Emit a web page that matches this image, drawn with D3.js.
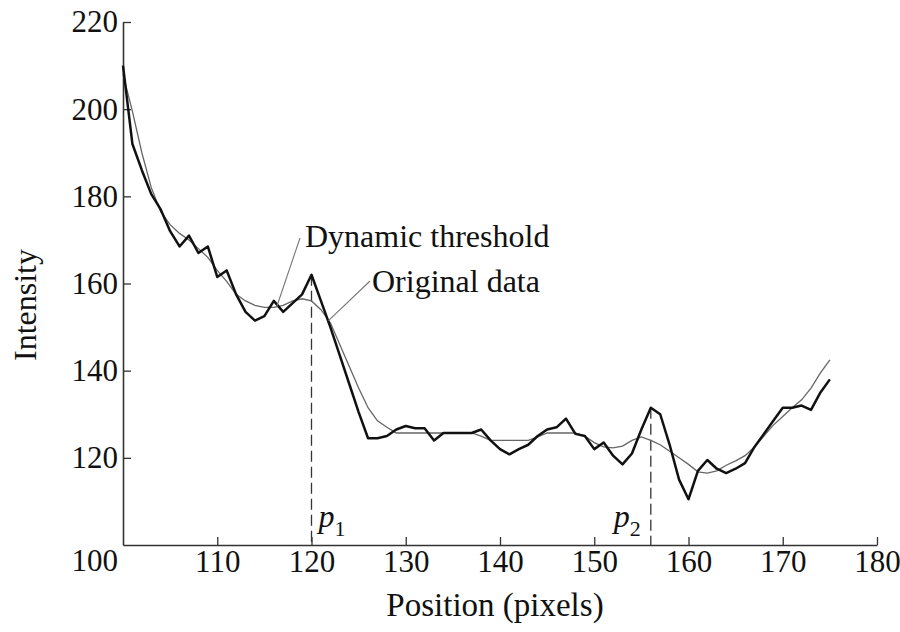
<!DOCTYPE html>
<html>
<head>
<meta charset="utf-8">
<script src="https://cdn.jsdelivr.net/npm/d3@7"></script>
<style>
  html, body { margin: 0; padding: 0; background: #fff; }
  svg text { font-family: "Liberation Serif", "DejaVu Serif", serif; fill: #111; }
</style>
</head>
<body>
<svg id="chart" width="900" height="632"></svg>
<script>
const positions = [100,101,102,103,104,105,106,107,108,109,110,111,112,113,114,115,116,117,118,119,
  120,121,122,123,124,125,126,127,128,129,130,131,132,133,134,135,136,137,138,139,
  140,141,142,143,144,145,146,147,148,149,150,151,152,153,154,155,156,157,158,159,
  160,161,162,163,164,165,166,167,168,169,170,171,172,173,174,175];

const originalData = [210,192,186,180.5,177,172,168.5,171,167,168.5,161.5,163,157.5,153.5,151.5,152.5,156,153.5,155.5,157.5,
  162,156,150,143.5,137,130.5,124.5,124.5,125,126.5,127.3,126.8,126.8,124,125.7,125.7,125.7,125.7,126.5,124,
  122,120.8,122,123,125,126.5,127,129,125.5,125,122,123.5,120.5,118.5,121,126.5,131.5,130,123,115,
  110.5,117,119.5,117.5,116.5,117.5,118.8,122.5,125.5,128.5,131.5,131.5,132,131,135,138];

const dynamicThreshold = [208,199.5,190,182,176.5,173.5,171.5,170,168,166,163,160.5,157.5,156,155,154.5,154.5,155,156,156.5,
  156,154,151,146,141,136,131.5,128.5,127,125.7,125.7,125.7,125.7,125.7,125.7,125.7,125.7,125.7,125,124,
  124,124,124,124,124.8,125.7,125.7,125.7,125.7,125,123.5,122.5,122.3,122.7,124,124.8,124,123,121.5,120,
  118.5,116.8,116.5,117,118.3,119.3,120.5,122.5,125,127.5,129.5,131.5,133.3,136,139.5,142.5];

const xTicks = [110,120,130,140,150,160,170,180];
const yTicks = [120,140,160,180,200,220];
const cornerLabel = "100";
const markers = [{pos:120, name:"p", sub:"1"}, {pos:156, name:"p", sub:"2"}];
const labels = {x:"Position (pixels)", y:"Intensity", thr:"Dynamic threshold", orig:"Original data"};

const svg = d3.select("#chart");
const x = d3.scaleLinear().domain([100,180]).range([123,877]);
const y = d3.scaleLinear().domain([100,220]).range([545,22]);

// axes
const xAxis = d3.axisBottom(x).tickValues(xTicks).tickSizeInner(-8).tickSizeOuter(0).tickPadding(5);
const gx = svg.append("g").attr("transform","translate(0,545)").call(xAxis);
gx.attr("font-family", null);
gx.select(".domain").attr("stroke","#333").attr("stroke-width",1.6);
gx.selectAll(".tick line").attr("stroke","#333").attr("stroke-width",1.3);
gx.selectAll(".tick text").attr("font-size",31).attr("dy","0.71em")
  .style("font-family","'Liberation Serif', serif").attr("fill","#111");

const yAxis = d3.axisLeft(y).tickValues(yTicks).tickSizeInner(-8).tickSizeOuter(0).tickPadding(5);
const gy = svg.append("g").attr("transform","translate(123,0)").call(yAxis);
gy.attr("font-family", null);
gy.select(".domain").attr("stroke","#333").attr("stroke-width",1.6);
gy.selectAll(".tick line").attr("stroke","#333").attr("stroke-width",1.3);
gy.selectAll(".tick text").attr("font-size",31)
  .style("font-family","'Liberation Serif', serif").attr("fill","#111");

svg.append("text").attr("x",118).attr("y",571).attr("text-anchor","end")
  .attr("font-size",31).text(cornerLabel);

// dashed markers
const peakAt = p => originalData[positions.indexOf(p)];
markers.forEach(m => {
  svg.append("line").attr("x1",x(m.pos)).attr("x2",x(m.pos))
    .attr("y1",y(peakAt(m.pos))).attr("y2",545)
    .attr("stroke","#333").attr("stroke-width",1.3).attr("stroke-dasharray","11,5");
});

// lines
const line = vals => d3.line().x((d,i)=>x(positions[i])).y(d=>y(d))(vals);
svg.append("path").attr("d",line(dynamicThreshold)).attr("fill","none")
  .attr("stroke","#666").attr("stroke-width",1.3);
svg.append("path").attr("d",line(originalData)).attr("fill","none")
  .attr("stroke","#111").attr("stroke-width",2.5).attr("stroke-linejoin","round");

// annotations
svg.append("line").attr("x1",300).attr("y1",238).attr("x2",x(116.3)).attr("y2",y(154.6))
  .attr("stroke","#777").attr("stroke-width",1.1);
svg.append("text").attr("x",305).attr("y",247).attr("font-size",32).text(labels.thr);
svg.append("line").attr("x1",370).attr("y1",281).attr("x2",x(121.8)).attr("y2",y(151.5))
  .attr("stroke","#777").attr("stroke-width",1.1);
svg.append("text").attr("x",372).attr("y",292).attr("font-size",32).text(labels.orig);

markers.forEach(m => {
  const t = svg.append("text").attr("x", m.pos===120 ? x(m.pos)+7 : x(m.pos)-37).attr("y",527);
  t.append("tspan").attr("font-size",32).attr("font-style","italic").text(m.name);
  t.append("tspan").attr("font-size",22).attr("dy",9).text(m.sub);
});

// axis titles
svg.append("text").attr("x",495).attr("y",616).attr("text-anchor","middle")
  .attr("font-size",33).text(labels.x);
svg.append("text").attr("transform","translate(36,305) rotate(-90)").attr("text-anchor","middle")
  .attr("font-size",32).text(labels.y);
</script>
</body>
</html>
